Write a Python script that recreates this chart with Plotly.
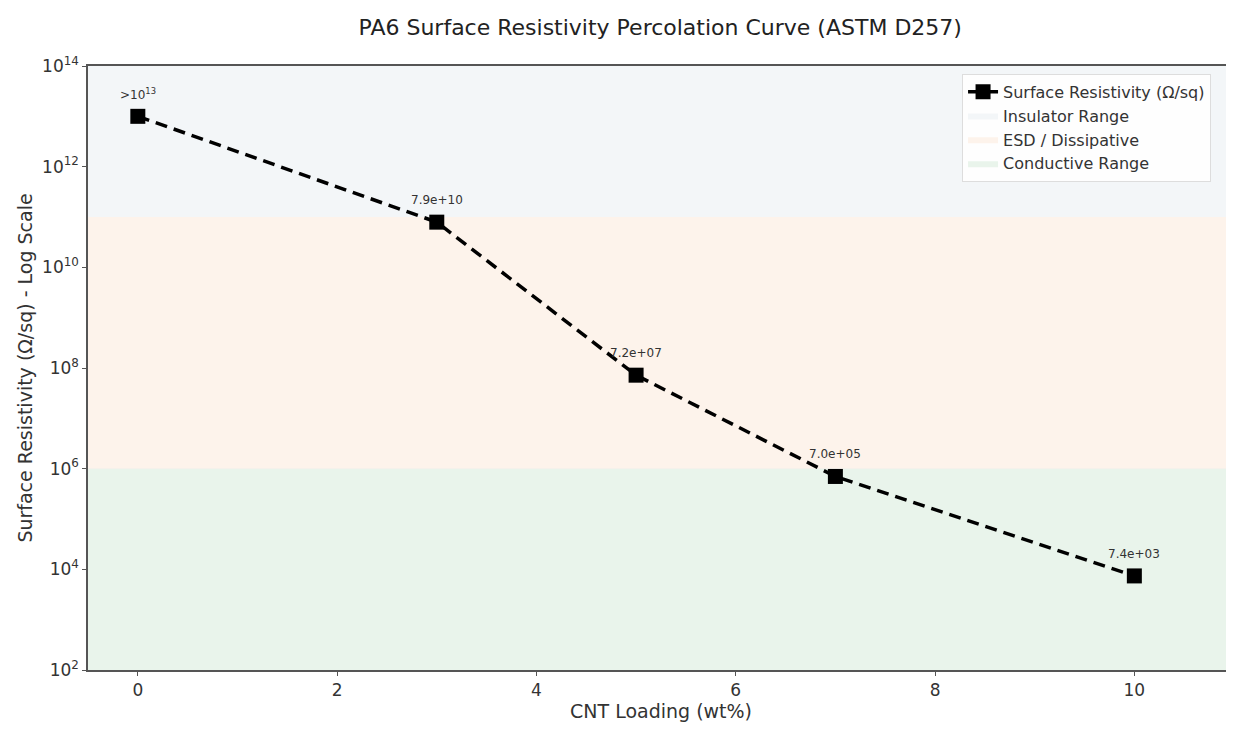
import math
import plotly.graph_objects as go

loading = [0, 3, 5, 7, 10]
resistivity = [1e13, 7.9e10, 7.2e7, 7.0e5, 7.4e3]
point_labels = [">10<sup>13</sup>", "7.9e+10", "7.2e+07", "7.0e+05", "7.4e+03"]

band_names = ["Insulator Range", "ESD / Dissipative", "Conductive Range"]
band_low = [1e11, 1e6, 1e2]
band_high = [1e14, 1e11, 1e6]
band_colors = ["#f3f6f8", "#fdf3eb", "#e9f4eb"]

x_range = [-0.5, 11.0]
x_ticks = [0, 2, 4, 6, 8, 10]
y_ticks = [1e2, 1e4, 1e6, 1e8, 1e10, 1e12, 1e14]
y_ticktext = ["10<sup>2</sup>", "10<sup>4</sup>", "10<sup>6</sup>", "10<sup>8</sup>",
              "10<sup>10</sup>", "10<sup>12</sup>", "10<sup>14</sup>"]

FONT = "DejaVu Sans"
fig = go.Figure()

for name, lo, hi, col in zip(band_names, band_low, band_high, band_colors):
    fig.add_trace(go.Scatter(
        x=[x_range[0], x_range[1], x_range[1], x_range[0], x_range[0]],
        y=[lo, lo, hi, hi, lo],
        mode="lines", fill="toself", fillcolor=col,
        line=dict(width=0, color=col), name=name, hoverinfo="skip",
        legendrank=2,
    ))

fig.add_trace(go.Scatter(
    x=loading, y=resistivity, mode="lines+markers",
    name="Surface Resistivity (Ω/sq)",
    line=dict(color="black", width=3.5, dash="12px,7px"),
    marker=dict(symbol="square", size=15, color="black"),
    legendrank=1,
))

# annotations on a log axis take log10 positions
for xv, yv, lab in zip(loading, resistivity, point_labels):
    fig.add_annotation(x=xv, y=math.log10(yv), yref="y", xref="x", text=lab,
                       showarrow=False, yshift=22,
                       font=dict(size=12, color="#333333", family=FONT))

fig.update_layout(
    width=1226, height=717,
    margin=dict(l=80, r=0, t=58, b=55),
    paper_bgcolor="white", plot_bgcolor="white",
    font=dict(family=FONT, color="#333333"),
    title=dict(text="PA6 Surface Resistivity Percolation Curve (ASTM D257)",
               x=0.532, xanchor="center", y=0.9735, yanchor="middle",
               font=dict(size=22, color="#222222")),
    legend=dict(x=0.7627, y=0.987, xanchor="left", yanchor="top",
                bgcolor="rgba(255,255,255,0.85)", bordercolor="#dddddd", borderwidth=1,
                font=dict(size=16, color="#333333"), tracegroupgap=0),
    showlegend=True,
)

fig.update_xaxes(
    range=x_range, tickvals=x_ticks,
    title=dict(text="CNT Loading (wt%)", font=dict(size=19), standoff=4),
    showgrid=True, gridcolor="#ebebeb", gridwidth=1,
    showline=True, linecolor="#555555", linewidth=1.5, mirror=True,
    ticks="outside", ticklen=4, tickcolor="#555555", tickfont=dict(size=17),
    zeroline=False,
)
fig.update_yaxes(
    type="log", range=[2, 14], tickvals=y_ticks, ticktext=y_ticktext,
    title=dict(text="Surface Resistivity (Ω/sq) - Log Scale", font=dict(size=19), standoff=4),
    showgrid=True, gridcolor="#ebebeb", gridwidth=1,
    showline=True, linecolor="#555555", linewidth=1.5, mirror=False,
    ticks="outside", ticklen=4, tickcolor="#555555", tickfont=dict(size=17),
    zeroline=False,
)

fig.write_html("out.html")
